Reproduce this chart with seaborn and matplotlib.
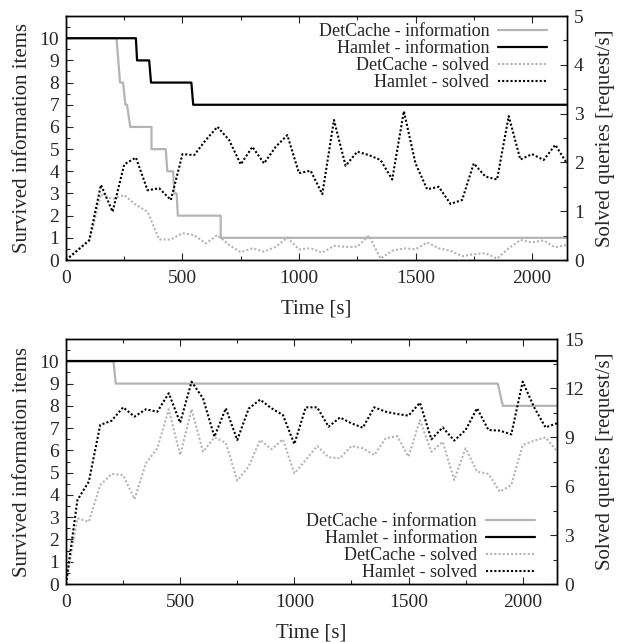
import numpy as np
import pandas as pd
import seaborn as sns
import matplotlib.pyplot as plt
from matplotlib.ticker import MultipleLocator

# sampling times of the "solved" series [s]
sample_t = [0, 50, 100, 150, 200, 250, 300, 350, 400, 450, 500, 550, 600, 650, 700,
            750, 800, 850, 900, 950, 1000, 1050, 1100, 1150, 1200, 1250, 1300, 1350,
            1400, 1450, 1500, 1550, 1600, 1650, 1700, 1750, 1800, 1850, 1900, 1950,
            2000, 2050, 2100, 2150]

# top panel
top_det_info_t = [0, 217, 232, 245, 255, 262, 276, 367, 367, 428, 435, 460, 465, 475, 480, 664, 664, 2150]
top_det_info_v = [10, 10, 8, 8, 7, 7, 6, 6, 5, 5, 4, 4, 3, 3, 2, 2, 1, 1]
top_ham_info_t = [0, 300, 305, 357, 365, 538, 546, 2150]
top_ham_info_v = [10, 10, 9, 9, 8, 8, 7, 7]
top_det_solved = [0.0, 0.2, 0.38, 1.35, 1.25, 1.33, 1.13, 0.99, 0.42, 0.42, 0.55, 0.51, 0.34,
                  0.51, 0.31, 0.16, 0.24, 0.17, 0.27, 0.46, 0.22, 0.24, 0.15, 0.29, 0.27, 0.27,
                  0.50, 0.03, 0.19, 0.24, 0.22, 0.36, 0.24, 0.19, 0.08, 0.12, 0.14, 0.03, 0.24,
                  0.41, 0.36, 0.40, 0.26, 0.31]
top_ham_solved = [0.0, 0.2, 0.41, 1.54, 0.99, 1.96, 2.10, 1.43, 1.47, 1.23, 2.17, 2.15, 2.46,
                  2.73, 2.46, 1.96, 2.32, 1.98, 2.32, 2.56, 1.78, 1.83, 1.35, 2.87, 1.93, 2.22,
                  2.15, 2.05, 1.65, 3.05, 1.98, 1.45, 1.50, 1.15, 1.23, 1.98, 1.71, 1.65, 2.95,
                  2.06, 2.17, 2.05, 2.36, 1.98]

# bottom panel
bot_det_info_t = [0, 208, 218, 1891, 1913, 2150]
bot_det_info_v = [10, 10, 9, 9, 8, 8]
bot_ham_info_t = [0, 2150]
bot_ham_info_v = [10, 10]
bot_det_solved = [0.0, 4.02, 3.82, 6.06, 6.74, 6.67, 5.2, 7.39, 8.31, 10.7, 7.9, 10.7, 8.1,
                  8.98, 8.65, 6.33, 7.2, 8.82, 8.25, 8.86, 6.78, 7.59, 8.45, 7.76, 7.7, 8.45,
                  8.31, 7.9, 8.92, 9.06, 7.8, 10.04, 8.1, 8.71, 6.37, 8.31, 6.88, 6.74, 5.65,
                  6.06, 8.51, 8.78, 8.98, 8.14]
bot_ham_solved = [0.0, 5.14, 6.27, 9.74, 10.0, 10.82, 10.25, 10.7, 10.55, 11.68, 9.88, 12.39,
                  11.37, 9.02, 10.76, 8.82, 10.74, 11.29, 10.76, 10.35, 8.57, 10.82, 10.82,
                  9.63, 10.2, 9.84, 9.57, 10.82, 10.55, 10.41, 10.31, 11.1, 8.86, 9.59, 8.78,
                  9.43, 10.76, 9.43, 9.39, 9.16, 12.39, 10.82, 9.59, 9.84]

labels = ['DetCache - information', 'Hamlet - information', 'DetCache - solved', 'Hamlet - solved']

sns.set_style('ticks')
plt.rcParams['font.family'] = ['Liberation Serif', 'DejaVu Serif']
plt.rcParams['xtick.direction'] = 'in'
plt.rcParams['ytick.direction'] = 'in'

GRAY = '#b4b4b4'
DOT = (0, (1, 1))


def panel(fig, rect, det_t, det_v, ham_t, ham_v, det_s, ham_s, y2max, y2step, leg_anchor):
    ax = fig.add_axes(rect)
    ax2 = ax.twinx()
    sns.lineplot(x=det_t, y=det_v, ax=ax, sort=False, estimator=None, color=GRAY, lw=1.6)
    sns.lineplot(x=ham_t, y=ham_v, ax=ax, sort=False, estimator=None, color='black', lw=1.6)
    sns.lineplot(x=sample_t, y=det_s, ax=ax2, sort=False, estimator=None, color=GRAY, lw=1.5, ls=DOT)
    sns.lineplot(x=sample_t, y=ham_s, ax=ax2, sort=False, estimator=None, color='black', lw=1.5, ls=DOT)

    ax.set_xlim(0, 2150)
    ax.set_ylim(0, 11)
    ax2.set_ylim(0, y2max)
    ax.set_yticks(range(0, 11))
    ax.yaxis.set_minor_locator(MultipleLocator(0.5))
    ax.set_xticks([0, 500, 1000, 1500, 2000])
    ax.xaxis.set_minor_locator(MultipleLocator(250))
    ax2.set_yticks(np.arange(0, y2max + 0.1, y2step))
    ax2.yaxis.set_minor_locator(MultipleLocator(y2step / 2))
    ax.tick_params(axis='x', which='both', top=True)
    ax.tick_params(which='major', length=5, width=0.8, labelsize=14, pad=5)
    ax.tick_params(axis='x', which='major', pad=7)
    ax.tick_params(which='minor', length=3, width=0.8)
    ax2.tick_params(which='major', length=5, width=0.8, labelsize=14, pad=5)
    ax2.tick_params(which='minor', length=3, width=0.8)
    for a in (ax, ax2):
        for s in a.spines.values():
            s.set_color('black')
            s.set_linewidth(1.0)
    ax.set_xlabel('Time [s]', fontsize=15, labelpad=9)
    ax.set_ylabel('Survived information items', fontsize=15, labelpad=5)
    ax2.set_ylabel('Solved queries [request/s]', fontsize=15, labelpad=9)

    handles = ax.get_lines()[:2] + ax2.get_lines()[:2]
    ax2.legend(handles, labels, loc='upper right', bbox_to_anchor=leg_anchor,
               frameon=False, markerfirst=False, fontsize=13, handlelength=2.7,
               handletextpad=0.5, labelspacing=0.0, borderpad=0, borderaxespad=0)
    return ax, ax2


fig = plt.figure(figsize=(6.26, 6.42), dpi=100)
panel(fig, [0.1054, 0.595, 0.8003, 0.380], top_det_info_t, top_det_info_v,
      top_ham_info_t, top_ham_info_v, top_det_solved, top_ham_solved, 5, 1, (0.96, 0.97))
panel(fig, [0.1054, 0.0903, 0.7843, 0.3816], bot_det_info_t, bot_det_info_v,
      bot_ham_info_t, bot_ham_info_v, bot_det_solved, bot_ham_solved, 15, 3, (0.955, 0.29))
fig.savefig('out.png', dpi=100)
